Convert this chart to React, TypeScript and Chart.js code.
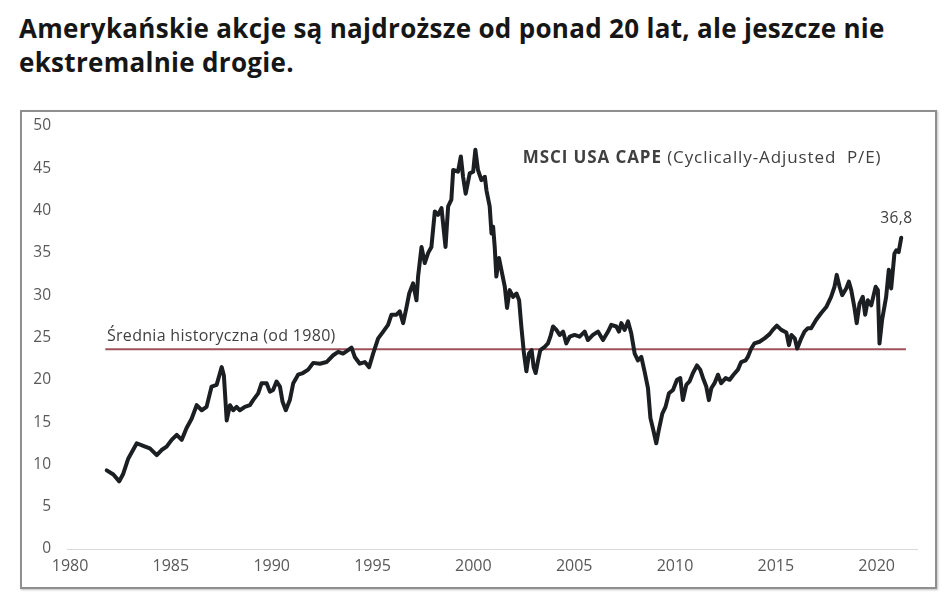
import React, { useEffect, useRef } from "react";
import { Chart, registerables } from "chart.js";

Chart.register(...registerables);

const TITLE_LINE_1 = "Amerykańskie akcje są najdroższe od ponad 20 lat, ale jeszcze nie";
const TITLE_LINE_2 = "ekstremalnie drogie.";

const SERIES_BOLD = "MSCI USA CAPE";
const SERIES_REST = "(Cyclically-Adjusted  P/E)";
const AVG_LABEL = "Średnia historyczna (od 1980)";
const LAST_LABEL = "36,8";

const X_TICKS = [1980, 1985, 1990, 1995, 2000, 2005, 2010, 2015, 2020];
const Y_TICKS = [0, 5, 10, 15, 20, 25, 30, 35, 40, 45, 50];

const YEARS = [
  1981.82, 1982.15, 1982.44, 1982.64, 1982.89, 1983.31, 1983.63, 1983.96, 1984.3, 1984.54,
  1984.79, 1985.04, 1985.29, 1985.54, 1985.78, 1986.03, 1986.28, 1986.53, 1986.77, 1987.02,
  1987.27, 1987.52, 1987.63, 1987.77, 1987.93, 1988.09, 1988.26, 1988.42, 1988.67, 1988.92,
  1989.08, 1989.33, 1989.5, 1989.75, 1989.91, 1990.07, 1990.24, 1990.41, 1990.54, 1990.7,
  1990.9, 1991.07, 1991.31, 1991.55, 1991.81, 1992.06, 1992.39, 1992.72, 1993.05, 1993.3,
  1993.54, 1993.79, 1993.96, 1994.12, 1994.37, 1994.62, 1994.83, 1995.03, 1995.28, 1995.53,
  1995.77, 1995.94, 1996.19, 1996.35, 1996.52, 1996.68, 1996.82, 1997.01, 1997.18, 1997.26,
  1997.43, 1997.59, 1997.76, 1997.92, 1998.09, 1998.25, 1998.42, 1998.62, 1998.75, 1998.91,
  1999.0, 1999.24, 1999.38, 1999.49, 1999.62, 1999.82, 1999.99, 2000.1, 2000.23, 2000.4,
  2000.57, 2000.65, 2000.81, 2000.9, 2000.98, 2001.06, 2001.14, 2001.27, 2001.39, 2001.56,
  2001.67, 2001.8, 2001.97, 2002.14, 2002.27, 2002.38, 2002.51, 2002.63, 2002.76, 2002.89,
  2002.99, 2003.09, 2003.21, 2003.32, 2003.54, 2003.7, 2003.82, 2003.95, 2004.12, 2004.28,
  2004.45, 2004.61, 2004.78, 2005.02, 2005.27, 2005.52, 2005.68, 2005.93, 2006.18, 2006.43,
  2006.68, 2006.84, 2007.09, 2007.22, 2007.34, 2007.5, 2007.67, 2007.83, 2008.0, 2008.16,
  2008.33, 2008.49, 2008.66, 2008.78, 2008.92, 2009.07, 2009.2, 2009.37, 2009.53, 2009.7,
  2009.9, 2010.1, 2010.26, 2010.39, 2010.56, 2010.72, 2010.89, 2011.09, 2011.25, 2011.42,
  2011.55, 2011.68, 2011.8, 2011.96, 2012.13, 2012.29, 2012.51, 2012.71, 2012.9, 2013.12,
  2013.28, 2013.5, 2013.61, 2013.78, 2013.94, 2014.19, 2014.44, 2014.69, 2014.85, 2015.05,
  2015.27, 2015.52, 2015.65, 2015.77, 2015.94, 2016.06, 2016.26, 2016.42, 2016.59, 2016.75,
  2017.0, 2017.25, 2017.5, 2017.74, 2017.91, 2018.02, 2018.16, 2018.29, 2018.49, 2018.62,
  2018.74, 2018.9, 2019.01, 2019.15, 2019.31, 2019.43, 2019.56, 2019.73, 2019.95, 2020.06,
  2020.14, 2020.27, 2020.47, 2020.6, 2020.72, 2020.88, 2020.97, 2021.09, 2021.22,
];

const CAPE = [
  9.3, 8.8, 8.0, 8.9, 10.7, 12.5, 12.2, 11.9, 11.1, 11.7,
  12.1, 12.9, 13.5, 12.9, 14.3, 15.4, 17.0, 16.4, 16.8, 19.2,
  19.4, 21.5, 20.5, 15.2, 17.0, 16.4, 16.8, 16.4, 16.8, 17.0,
  17.6, 18.4, 19.6, 19.6, 18.6, 18.8, 19.8, 19.2, 17.4, 16.4,
  17.6, 19.6, 20.6, 20.8, 21.2, 22.0, 21.9, 22.1, 22.9, 23.3,
  23.1, 23.5, 23.8, 22.7, 21.9, 22.1, 21.5, 23.1, 24.9, 25.7,
  26.5, 27.7, 27.7, 28.1, 26.7, 28.5, 30.2, 31.4, 29.4, 32.2,
  35.7, 33.8, 35.0, 35.7, 39.9, 39.5, 40.3, 35.7, 40.5, 41.3,
  44.8, 44.6, 46.4, 44.0, 42.0, 44.4, 44.6, 47.2, 44.8, 43.6,
  44.0, 42.4, 40.5, 37.3, 38.1, 35.7, 32.2, 34.4, 33.0, 31.0,
  28.5, 30.6, 29.8, 30.2, 29.4, 26.3, 23.1, 21.0, 23.1, 23.5,
  21.5, 20.8, 22.3, 23.5, 23.9, 24.3, 25.1, 26.3, 25.9, 25.3,
  25.7, 24.3, 25.1, 25.3, 25.1, 25.7, 24.7, 25.3, 25.7, 24.7,
  25.7, 26.5, 26.3, 25.7, 26.7, 25.9, 26.9, 25.5, 23.1, 22.3,
  22.7, 21.0, 19.0, 15.5, 14.1, 12.5, 14.1, 16.0, 16.8, 18.4,
  18.8, 20.0, 20.2, 17.6, 19.4, 19.8, 20.8, 21.7, 21.2, 20.0,
  19.2, 17.6, 19.0, 19.6, 20.6, 19.6, 20.2, 20.0, 20.6, 21.2,
  22.1, 22.3, 22.7, 23.7, 24.3, 24.5, 24.9, 25.4, 25.9, 26.4,
  25.9, 25.6, 24.1, 25.3, 24.9, 23.7, 24.9, 25.7, 26.1, 26.1,
  27.1, 27.9, 28.6, 29.8, 31.0, 32.4, 31.0, 30.0, 30.8, 31.6,
  30.6, 28.5, 26.7, 29.0, 29.8, 27.7, 29.4, 28.8, 31.0, 30.6,
  24.3, 27.1, 29.8, 33.0, 30.8, 34.9, 35.3, 35.1, 36.8,
];

const AVG_VALUE = 23.6;
const AVG_FROM = 1981.75;
const AVG_TO = 2021.45;

// anchor positions of the annotation texts, in data units
const SERIES_LABEL_AT = { x: 2002.45, y: 45.6 };
const AVG_LABEL_AT = { x: 1981.83, y: 24.6 };
const LAST_LABEL_AT = { x: 2020.98, y: 38.5 };

const FONT = '"Open Sans", "Liberation Sans", sans-serif';

const textPlugin = {
  id: "annotTexts",
  afterDatasetsDraw(chart: any) {
    const { ctx, scales } = chart;
    const x = scales.x;
    const y = scales.y;
    ctx.save();
    ctx.fillStyle = "#404040";
    ctx.textBaseline = "alphabetic";
    ctx.textAlign = "left";

    const sx = x.getPixelForValue(SERIES_LABEL_AT.x);
    const sy = y.getPixelForValue(SERIES_LABEL_AT.y);
    (ctx as any).letterSpacing = "0.9px";
    ctx.font = `bold 17px ${FONT}`;
    ctx.fillText(SERIES_BOLD, sx, sy);
    const w = ctx.measureText(SERIES_BOLD + " ").width;
    ctx.font = `17px ${FONT}`;
    ctx.fillText(SERIES_REST, sx + w, sy);

    (ctx as any).letterSpacing = "0.3px";
    ctx.font = `16px ${FONT}`;
    ctx.fillText(AVG_LABEL, x.getPixelForValue(AVG_LABEL_AT.x), y.getPixelForValue(AVG_LABEL_AT.y));

    (ctx as any).letterSpacing = "0.4px";
    ctx.font = `15.5px ${FONT}`;
    ctx.textAlign = "center";
    ctx.fillText(LAST_LABEL, x.getPixelForValue(LAST_LABEL_AT.x), y.getPixelForValue(LAST_LABEL_AT.y));
    ctx.restore();
  },
};

export default function App() {
  const canvasRef = useRef<HTMLCanvasElement | null>(null);

  useEffect(() => {
    const canvas = canvasRef.current;
    if (!canvas) return;
    const chart = new Chart(canvas, {
      type: "line",
      data: {
        datasets: [
          {
            label: "CAPE",
            data: YEARS.map((yr, i) => ({ x: yr, y: CAPE[i] })),
            borderColor: "#1c1f22",
            borderWidth: 4,
            pointRadius: 0,
            tension: 0,
            borderJoinStyle: "round",
            borderCapStyle: "round",
          },
          {
            label: "avg",
            data: [
              { x: AVG_FROM, y: AVG_VALUE },
              { x: AVG_TO, y: AVG_VALUE },
            ],
            borderColor: "#9e5259",
            borderWidth: 2,
            pointRadius: 0,
          },
        ],
      },
      options: {
        responsive: false,
        animation: false,
        events: [],
        layout: { padding: { top: 126, right: 31, left: 0, bottom: 0 } },
        plugins: {
          legend: { display: false },
          tooltip: { enabled: false },
        },
        scales: {
          x: {
            type: "linear",
            min: 1979.85,
            max: 2022,
            afterBuildTicks: (s: any) => {
              s.ticks = X_TICKS.map((v) => ({ value: v }));
            },
            afterFit: (s: any) => {
              s.height = 44;
            },
            ticks: {
              autoSkip: false,
              maxRotation: 0,
              color: "#595959",
              padding: 8,
              font: { family: FONT, size: 16 },
              callback: (v: any) => String(v),
            },
            grid: { display: false, drawTicks: false },
            border: { display: true, color: "#d9d9d9", width: 1 },
          },
          y: {
            type: "linear",
            min: 0,
            max: 50,
            afterBuildTicks: (s: any) => {
              s.ticks = Y_TICKS.map((v) => ({ value: v }));
            },
            afterFit: (s: any) => {
              s.width = 67;
            },
            ticks: {
              color: "#595959",
              padding: 16,
              font: { family: FONT, size: 15.5 },
              callback: (v: any) => String(v),
            },
            grid: { display: false, drawTicks: false },
            border: { display: false },
          },
        },
      },
      plugins: [textPlugin],
    } as any);
    return () => chart.destroy();
  }, []);

  return (
    <div
      style={{
        position: "fixed",
        left: 0,
        top: 0,
        width: 948,
        height: 593,
        background: "#ffffff",
        overflow: "hidden",
      }}
    >
      <div
        style={{
          position: "absolute",
          left: 19,
          top: 11,
          fontFamily: FONT,
          fontWeight: 700,
          fontSize: 26,
          letterSpacing: "0.3px",
          lineHeight: "34px",
          color: "#161616",
          whiteSpace: "nowrap",
        }}
      >
        {TITLE_LINE_1}
        <br />
        {TITLE_LINE_2}
      </div>
      <div
        style={{
          position: "absolute",
          left: 20,
          top: 110,
          width: 913,
          height: 475,
          border: "2px solid #8f8f8f",
          boxShadow: "1px 1px 2px rgba(0,0,0,0.25)",
        }}
      />
      <canvas
        ref={canvasRef}
        width={948}
        height={593}
        style={{ position: "absolute", left: 0, top: 0, width: 948, height: 593 }}
      />
    </div>
  );
}
